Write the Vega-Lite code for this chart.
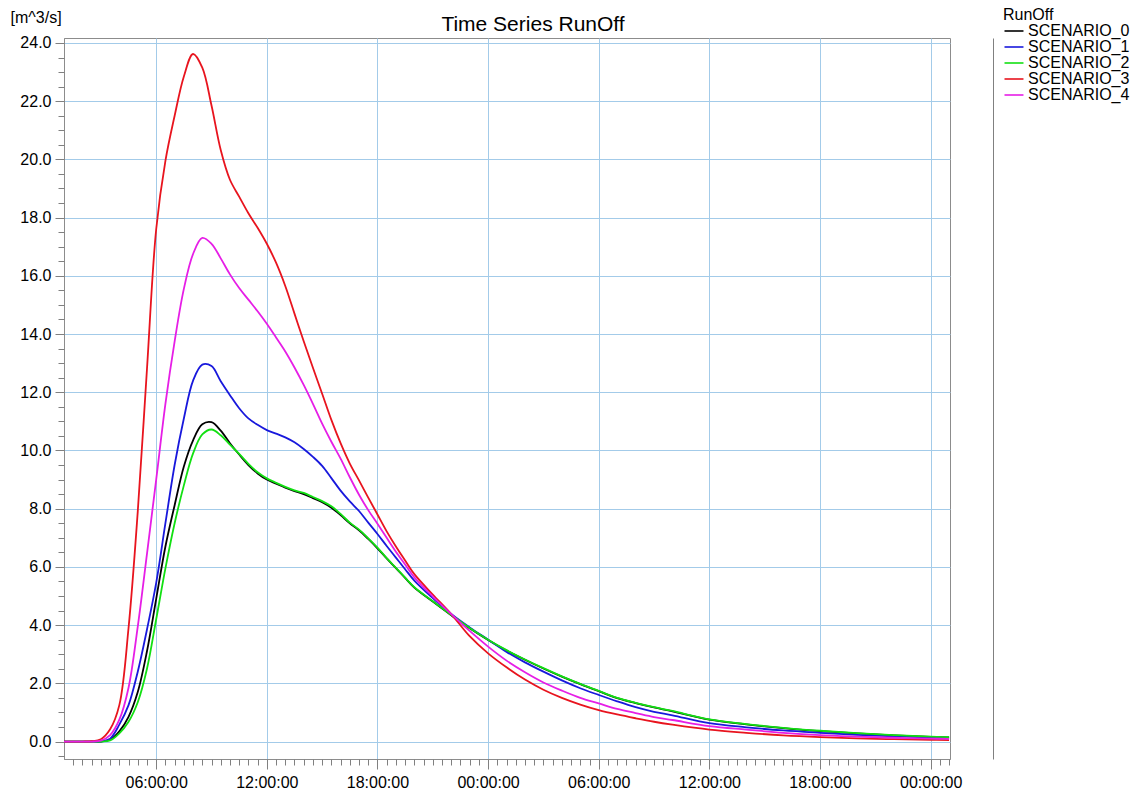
{
  "$schema": "https://vega.github.io/schema/vega-lite/v6.json",
  "width": 886,
  "height": 721,
  "autosize": {"type": "none"},
  "padding": {"left": 64, "top": 38, "right": 192, "bottom": 35},
  "background": "white",
  "title": {
    "text": "Time Series RunOff",
    "anchor": "middle",
    "frame": "group",
    "dx": 26,
    "dy": 32,
    "offset": 4,
    "fontSize": 21,
    "fontWeight": "normal",
    "font": "Liberation Sans",
    "color": "#000000"
  },
  "config": {
    "font": "Liberation Sans",
    "view": {"stroke": "#8c8c8c", "strokeWidth": 1},
    "axis": {
      "labelFont": "Liberation Sans",
      "labelFontSize": 16,
      "labelColor": "#000000",
      "tickColor": "#808080",
      "domainColor": "#8c8c8c",
      "gridColor": "#a3cbe9",
      "gridWidth": 1,
      "labelFlush": false,
      "labelOverlap": false
    }
  },
  "datasets": {
    "runoff": [
      {"hour": 1, "scenario": "SCENARIO_0", "q": 0},
      {"hour": 2, "scenario": "SCENARIO_0", "q": 0},
      {"hour": 2.5, "scenario": "SCENARIO_0", "q": 0},
      {"hour": 3, "scenario": "SCENARIO_0", "q": 0},
      {"hour": 3.5, "scenario": "SCENARIO_0", "q": 0.06},
      {"hour": 4, "scenario": "SCENARIO_0", "q": 0.35},
      {"hour": 4.5, "scenario": "SCENARIO_0", "q": 0.85},
      {"hour": 5, "scenario": "SCENARIO_0", "q": 1.7},
      {"hour": 5.5, "scenario": "SCENARIO_0", "q": 3.1},
      {"hour": 6, "scenario": "SCENARIO_0", "q": 4.9},
      {"hour": 6.5, "scenario": "SCENARIO_0", "q": 6.7},
      {"hour": 7, "scenario": "SCENARIO_0", "q": 8.12},
      {"hour": 7.5, "scenario": "SCENARIO_0", "q": 9.45},
      {"hour": 8, "scenario": "SCENARIO_0", "q": 10.35},
      {"hour": 8.5, "scenario": "SCENARIO_0", "q": 10.9},
      {"hour": 9, "scenario": "SCENARIO_0", "q": 10.97},
      {"hour": 9.5, "scenario": "SCENARIO_0", "q": 10.68},
      {"hour": 10, "scenario": "SCENARIO_0", "q": 10.25},
      {"hour": 10.5, "scenario": "SCENARIO_0", "q": 9.86},
      {"hour": 11, "scenario": "SCENARIO_0", "q": 9.5},
      {"hour": 11.5, "scenario": "SCENARIO_0", "q": 9.21},
      {"hour": 12, "scenario": "SCENARIO_0", "q": 9.0},
      {"hour": 12.5, "scenario": "SCENARIO_0", "q": 8.86},
      {"hour": 13, "scenario": "SCENARIO_0", "q": 8.72},
      {"hour": 13.5, "scenario": "SCENARIO_0", "q": 8.6},
      {"hour": 14, "scenario": "SCENARIO_0", "q": 8.5},
      {"hour": 14.5, "scenario": "SCENARIO_0", "q": 8.36},
      {"hour": 15, "scenario": "SCENARIO_0", "q": 8.22},
      {"hour": 15.5, "scenario": "SCENARIO_0", "q": 8.03},
      {"hour": 16, "scenario": "SCENARIO_0", "q": 7.78},
      {"hour": 16.5, "scenario": "SCENARIO_0", "q": 7.5},
      {"hour": 17, "scenario": "SCENARIO_0", "q": 7.26},
      {"hour": 17.5, "scenario": "SCENARIO_0", "q": 6.96},
      {"hour": 18, "scenario": "SCENARIO_0", "q": 6.64},
      {"hour": 18.5, "scenario": "SCENARIO_0", "q": 6.29},
      {"hour": 19, "scenario": "SCENARIO_0", "q": 5.96},
      {"hour": 19.5, "scenario": "SCENARIO_0", "q": 5.62},
      {"hour": 20, "scenario": "SCENARIO_0", "q": 5.29},
      {"hour": 21, "scenario": "SCENARIO_0", "q": 4.81},
      {"hour": 22, "scenario": "SCENARIO_0", "q": 4.34},
      {"hour": 23, "scenario": "SCENARIO_0", "q": 3.89},
      {"hour": 24, "scenario": "SCENARIO_0", "q": 3.49},
      {"hour": 25, "scenario": "SCENARIO_0", "q": 3.13},
      {"hour": 26, "scenario": "SCENARIO_0", "q": 2.81},
      {"hour": 27, "scenario": "SCENARIO_0", "q": 2.51},
      {"hour": 28, "scenario": "SCENARIO_0", "q": 2.23},
      {"hour": 29, "scenario": "SCENARIO_0", "q": 1.97},
      {"hour": 30, "scenario": "SCENARIO_0", "q": 1.73},
      {"hour": 31, "scenario": "SCENARIO_0", "q": 1.49},
      {"hour": 32, "scenario": "SCENARIO_0", "q": 1.32},
      {"hour": 33, "scenario": "SCENARIO_0", "q": 1.17},
      {"hour": 34, "scenario": "SCENARIO_0", "q": 1.04},
      {"hour": 36, "scenario": "SCENARIO_0", "q": 0.75},
      {"hour": 38, "scenario": "SCENARIO_0", "q": 0.59},
      {"hour": 40, "scenario": "SCENARIO_0", "q": 0.46},
      {"hour": 42, "scenario": "SCENARIO_0", "q": 0.36},
      {"hour": 44, "scenario": "SCENARIO_0", "q": 0.28},
      {"hour": 46, "scenario": "SCENARIO_0", "q": 0.21},
      {"hour": 48, "scenario": "SCENARIO_0", "q": 0.16},
      {"hour": 49, "scenario": "SCENARIO_0", "q": 0.14},

      {"hour": 1, "scenario": "SCENARIO_1", "q": 0},
      {"hour": 2, "scenario": "SCENARIO_1", "q": 0},
      {"hour": 2.5, "scenario": "SCENARIO_1", "q": 0},
      {"hour": 3, "scenario": "SCENARIO_1", "q": 0.01},
      {"hour": 3.5, "scenario": "SCENARIO_1", "q": 0.1},
      {"hour": 4, "scenario": "SCENARIO_1", "q": 0.58},
      {"hour": 4.5, "scenario": "SCENARIO_1", "q": 1.25},
      {"hour": 5, "scenario": "SCENARIO_1", "q": 2.4},
      {"hour": 5.5, "scenario": "SCENARIO_1", "q": 3.85},
      {"hour": 6, "scenario": "SCENARIO_1", "q": 5.45},
      {"hour": 6.5, "scenario": "SCENARIO_1", "q": 7.5},
      {"hour": 7, "scenario": "SCENARIO_1", "q": 9.5},
      {"hour": 7.5, "scenario": "SCENARIO_1", "q": 11.1},
      {"hour": 8, "scenario": "SCENARIO_1", "q": 12.4},
      {"hour": 8.5, "scenario": "SCENARIO_1", "q": 12.95},
      {"hour": 9, "scenario": "SCENARIO_1", "q": 12.9},
      {"hour": 9.5, "scenario": "SCENARIO_1", "q": 12.38},
      {"hour": 10, "scenario": "SCENARIO_1", "q": 11.9},
      {"hour": 10.5, "scenario": "SCENARIO_1", "q": 11.45},
      {"hour": 11, "scenario": "SCENARIO_1", "q": 11.1},
      {"hour": 11.5, "scenario": "SCENARIO_1", "q": 10.88},
      {"hour": 12, "scenario": "SCENARIO_1", "q": 10.7},
      {"hour": 12.5, "scenario": "SCENARIO_1", "q": 10.58},
      {"hour": 13, "scenario": "SCENARIO_1", "q": 10.45},
      {"hour": 13.5, "scenario": "SCENARIO_1", "q": 10.28},
      {"hour": 14, "scenario": "SCENARIO_1", "q": 10.05},
      {"hour": 14.5, "scenario": "SCENARIO_1", "q": 9.78},
      {"hour": 15, "scenario": "SCENARIO_1", "q": 9.47},
      {"hour": 15.5, "scenario": "SCENARIO_1", "q": 9.05},
      {"hour": 16, "scenario": "SCENARIO_1", "q": 8.62},
      {"hour": 16.5, "scenario": "SCENARIO_1", "q": 8.25},
      {"hour": 17, "scenario": "SCENARIO_1", "q": 7.92},
      {"hour": 17.5, "scenario": "SCENARIO_1", "q": 7.52},
      {"hour": 18, "scenario": "SCENARIO_1", "q": 7.13},
      {"hour": 18.5, "scenario": "SCENARIO_1", "q": 6.72},
      {"hour": 19, "scenario": "SCENARIO_1", "q": 6.32},
      {"hour": 19.5, "scenario": "SCENARIO_1", "q": 5.92},
      {"hour": 20, "scenario": "SCENARIO_1", "q": 5.53},
      {"hour": 21, "scenario": "SCENARIO_1", "q": 4.93},
      {"hour": 22, "scenario": "SCENARIO_1", "q": 4.38},
      {"hour": 23, "scenario": "SCENARIO_1", "q": 3.92},
      {"hour": 24, "scenario": "SCENARIO_1", "q": 3.5},
      {"hour": 25, "scenario": "SCENARIO_1", "q": 3.08},
      {"hour": 26, "scenario": "SCENARIO_1", "q": 2.72},
      {"hour": 27, "scenario": "SCENARIO_1", "q": 2.4},
      {"hour": 28, "scenario": "SCENARIO_1", "q": 2.1},
      {"hour": 29, "scenario": "SCENARIO_1", "q": 1.83},
      {"hour": 30, "scenario": "SCENARIO_1", "q": 1.6},
      {"hour": 31, "scenario": "SCENARIO_1", "q": 1.38},
      {"hour": 32, "scenario": "SCENARIO_1", "q": 1.18},
      {"hour": 33, "scenario": "SCENARIO_1", "q": 1.02},
      {"hour": 34, "scenario": "SCENARIO_1", "q": 0.9},
      {"hour": 36, "scenario": "SCENARIO_1", "q": 0.63},
      {"hour": 38, "scenario": "SCENARIO_1", "q": 0.49},
      {"hour": 40, "scenario": "SCENARIO_1", "q": 0.38},
      {"hour": 42, "scenario": "SCENARIO_1", "q": 0.3},
      {"hour": 44, "scenario": "SCENARIO_1", "q": 0.23},
      {"hour": 46, "scenario": "SCENARIO_1", "q": 0.18},
      {"hour": 48, "scenario": "SCENARIO_1", "q": 0.14},
      {"hour": 49, "scenario": "SCENARIO_1", "q": 0.12},

      {"hour": 1, "scenario": "SCENARIO_2", "q": 0},
      {"hour": 2, "scenario": "SCENARIO_2", "q": 0},
      {"hour": 2.5, "scenario": "SCENARIO_2", "q": 0},
      {"hour": 3, "scenario": "SCENARIO_2", "q": 0},
      {"hour": 3.5, "scenario": "SCENARIO_2", "q": 0.04},
      {"hour": 4, "scenario": "SCENARIO_2", "q": 0.28},
      {"hour": 4.5, "scenario": "SCENARIO_2", "q": 0.68},
      {"hour": 5, "scenario": "SCENARIO_2", "q": 1.35},
      {"hour": 5.5, "scenario": "SCENARIO_2", "q": 2.5},
      {"hour": 6, "scenario": "SCENARIO_2", "q": 4.2},
      {"hour": 6.5, "scenario": "SCENARIO_2", "q": 5.95},
      {"hour": 7, "scenario": "SCENARIO_2", "q": 7.5},
      {"hour": 7.5, "scenario": "SCENARIO_2", "q": 8.8},
      {"hour": 8, "scenario": "SCENARIO_2", "q": 9.9},
      {"hour": 8.5, "scenario": "SCENARIO_2", "q": 10.55},
      {"hour": 9, "scenario": "SCENARIO_2", "q": 10.72},
      {"hour": 9.5, "scenario": "SCENARIO_2", "q": 10.52},
      {"hour": 10, "scenario": "SCENARIO_2", "q": 10.2},
      {"hour": 10.5, "scenario": "SCENARIO_2", "q": 9.88},
      {"hour": 11, "scenario": "SCENARIO_2", "q": 9.54},
      {"hour": 11.5, "scenario": "SCENARIO_2", "q": 9.25},
      {"hour": 12, "scenario": "SCENARIO_2", "q": 9.04},
      {"hour": 12.5, "scenario": "SCENARIO_2", "q": 8.89},
      {"hour": 13, "scenario": "SCENARIO_2", "q": 8.75},
      {"hour": 13.5, "scenario": "SCENARIO_2", "q": 8.63},
      {"hour": 14, "scenario": "SCENARIO_2", "q": 8.54},
      {"hour": 14.5, "scenario": "SCENARIO_2", "q": 8.4},
      {"hour": 15, "scenario": "SCENARIO_2", "q": 8.26},
      {"hour": 15.5, "scenario": "SCENARIO_2", "q": 8.08},
      {"hour": 16, "scenario": "SCENARIO_2", "q": 7.82},
      {"hour": 16.5, "scenario": "SCENARIO_2", "q": 7.52},
      {"hour": 17, "scenario": "SCENARIO_2", "q": 7.28},
      {"hour": 17.5, "scenario": "SCENARIO_2", "q": 6.98},
      {"hour": 18, "scenario": "SCENARIO_2", "q": 6.66},
      {"hour": 18.5, "scenario": "SCENARIO_2", "q": 6.3},
      {"hour": 19, "scenario": "SCENARIO_2", "q": 5.97},
      {"hour": 19.5, "scenario": "SCENARIO_2", "q": 5.63},
      {"hour": 20, "scenario": "SCENARIO_2", "q": 5.3},
      {"hour": 21, "scenario": "SCENARIO_2", "q": 4.82},
      {"hour": 22, "scenario": "SCENARIO_2", "q": 4.35},
      {"hour": 23, "scenario": "SCENARIO_2", "q": 3.9},
      {"hour": 24, "scenario": "SCENARIO_2", "q": 3.5},
      {"hour": 25, "scenario": "SCENARIO_2", "q": 3.14},
      {"hour": 26, "scenario": "SCENARIO_2", "q": 2.82},
      {"hour": 27, "scenario": "SCENARIO_2", "q": 2.52},
      {"hour": 28, "scenario": "SCENARIO_2", "q": 2.24},
      {"hour": 29, "scenario": "SCENARIO_2", "q": 1.98},
      {"hour": 30, "scenario": "SCENARIO_2", "q": 1.74},
      {"hour": 31, "scenario": "SCENARIO_2", "q": 1.5},
      {"hour": 32, "scenario": "SCENARIO_2", "q": 1.33},
      {"hour": 33, "scenario": "SCENARIO_2", "q": 1.18},
      {"hour": 34, "scenario": "SCENARIO_2", "q": 1.05},
      {"hour": 36, "scenario": "SCENARIO_2", "q": 0.76},
      {"hour": 38, "scenario": "SCENARIO_2", "q": 0.6},
      {"hour": 40, "scenario": "SCENARIO_2", "q": 0.47},
      {"hour": 42, "scenario": "SCENARIO_2", "q": 0.37},
      {"hour": 44, "scenario": "SCENARIO_2", "q": 0.29},
      {"hour": 46, "scenario": "SCENARIO_2", "q": 0.22},
      {"hour": 48, "scenario": "SCENARIO_2", "q": 0.17},
      {"hour": 49, "scenario": "SCENARIO_2", "q": 0.15},

      {"hour": 1, "scenario": "SCENARIO_3", "q": 0},
      {"hour": 2, "scenario": "SCENARIO_3", "q": 0},
      {"hour": 2.5, "scenario": "SCENARIO_3", "q": 0.01},
      {"hour": 3, "scenario": "SCENARIO_3", "q": 0.08},
      {"hour": 3.5, "scenario": "SCENARIO_3", "q": 0.42},
      {"hour": 4, "scenario": "SCENARIO_3", "q": 1.25},
      {"hour": 4.5, "scenario": "SCENARIO_3", "q": 3.9},
      {"hour": 5, "scenario": "SCENARIO_3", "q": 7.9},
      {"hour": 5.5, "scenario": "SCENARIO_3", "q": 12.8},
      {"hour": 6, "scenario": "SCENARIO_3", "q": 17.6},
      {"hour": 6.5, "scenario": "SCENARIO_3", "q": 19.95},
      {"hour": 7, "scenario": "SCENARIO_3", "q": 21.5},
      {"hour": 7.5, "scenario": "SCENARIO_3", "q": 22.85},
      {"hour": 8, "scenario": "SCENARIO_3", "q": 23.62},
      {"hour": 8.5, "scenario": "SCENARIO_3", "q": 23.15},
      {"hour": 9, "scenario": "SCENARIO_3", "q": 21.85},
      {"hour": 9.5, "scenario": "SCENARIO_3", "q": 20.32},
      {"hour": 10, "scenario": "SCENARIO_3", "q": 19.3},
      {"hour": 10.5, "scenario": "SCENARIO_3", "q": 18.72},
      {"hour": 11, "scenario": "SCENARIO_3", "q": 18.15},
      {"hour": 11.5, "scenario": "SCENARIO_3", "q": 17.65},
      {"hour": 12, "scenario": "SCENARIO_3", "q": 17.1},
      {"hour": 12.5, "scenario": "SCENARIO_3", "q": 16.45},
      {"hour": 13, "scenario": "SCENARIO_3", "q": 15.65},
      {"hour": 13.5, "scenario": "SCENARIO_3", "q": 14.7},
      {"hour": 14, "scenario": "SCENARIO_3", "q": 13.75},
      {"hour": 14.5, "scenario": "SCENARIO_3", "q": 12.84},
      {"hour": 15, "scenario": "SCENARIO_3", "q": 11.95},
      {"hour": 15.5, "scenario": "SCENARIO_3", "q": 11.05},
      {"hour": 16, "scenario": "SCENARIO_3", "q": 10.25},
      {"hour": 16.5, "scenario": "SCENARIO_3", "q": 9.55},
      {"hour": 17, "scenario": "SCENARIO_3", "q": 8.97},
      {"hour": 17.5, "scenario": "SCENARIO_3", "q": 8.38},
      {"hour": 18, "scenario": "SCENARIO_3", "q": 7.8},
      {"hour": 18.5, "scenario": "SCENARIO_3", "q": 7.22},
      {"hour": 19, "scenario": "SCENARIO_3", "q": 6.7},
      {"hour": 19.5, "scenario": "SCENARIO_3", "q": 6.22},
      {"hour": 20, "scenario": "SCENARIO_3", "q": 5.75},
      {"hour": 21, "scenario": "SCENARIO_3", "q": 5.05},
      {"hour": 22, "scenario": "SCENARIO_3", "q": 4.38},
      {"hour": 23, "scenario": "SCENARIO_3", "q": 3.62},
      {"hour": 24, "scenario": "SCENARIO_3", "q": 3.03},
      {"hour": 25, "scenario": "SCENARIO_3", "q": 2.55},
      {"hour": 26, "scenario": "SCENARIO_3", "q": 2.13},
      {"hour": 27, "scenario": "SCENARIO_3", "q": 1.78},
      {"hour": 28, "scenario": "SCENARIO_3", "q": 1.5},
      {"hour": 29, "scenario": "SCENARIO_3", "q": 1.27},
      {"hour": 30, "scenario": "SCENARIO_3", "q": 1.08},
      {"hour": 31, "scenario": "SCENARIO_3", "q": 0.93},
      {"hour": 32, "scenario": "SCENARIO_3", "q": 0.8},
      {"hour": 33, "scenario": "SCENARIO_3", "q": 0.68},
      {"hour": 34, "scenario": "SCENARIO_3", "q": 0.58},
      {"hour": 36, "scenario": "SCENARIO_3", "q": 0.41},
      {"hour": 38, "scenario": "SCENARIO_3", "q": 0.3},
      {"hour": 40, "scenario": "SCENARIO_3", "q": 0.21},
      {"hour": 42, "scenario": "SCENARIO_3", "q": 0.15},
      {"hour": 44, "scenario": "SCENARIO_3", "q": 0.11},
      {"hour": 46, "scenario": "SCENARIO_3", "q": 0.08},
      {"hour": 48, "scenario": "SCENARIO_3", "q": 0.06},
      {"hour": 49, "scenario": "SCENARIO_3", "q": 0.05},

      {"hour": 1, "scenario": "SCENARIO_4", "q": 0},
      {"hour": 2, "scenario": "SCENARIO_4", "q": 0},
      {"hour": 2.5, "scenario": "SCENARIO_4", "q": 0},
      {"hour": 3, "scenario": "SCENARIO_4", "q": 0.03},
      {"hour": 3.5, "scenario": "SCENARIO_4", "q": 0.22},
      {"hour": 4, "scenario": "SCENARIO_4", "q": 0.75},
      {"hour": 4.5, "scenario": "SCENARIO_4", "q": 1.85},
      {"hour": 5, "scenario": "SCENARIO_4", "q": 3.95},
      {"hour": 5.5, "scenario": "SCENARIO_4", "q": 6.45},
      {"hour": 6, "scenario": "SCENARIO_4", "q": 9.0},
      {"hour": 6.5, "scenario": "SCENARIO_4", "q": 11.6},
      {"hour": 7, "scenario": "SCENARIO_4", "q": 13.75},
      {"hour": 7.5, "scenario": "SCENARIO_4", "q": 15.55},
      {"hour": 8, "scenario": "SCENARIO_4", "q": 16.75},
      {"hour": 8.5, "scenario": "SCENARIO_4", "q": 17.3},
      {"hour": 9, "scenario": "SCENARIO_4", "q": 17.1},
      {"hour": 9.5, "scenario": "SCENARIO_4", "q": 16.6},
      {"hour": 10, "scenario": "SCENARIO_4", "q": 16.05},
      {"hour": 10.5, "scenario": "SCENARIO_4", "q": 15.58},
      {"hour": 11, "scenario": "SCENARIO_4", "q": 15.18},
      {"hour": 11.5, "scenario": "SCENARIO_4", "q": 14.78},
      {"hour": 12, "scenario": "SCENARIO_4", "q": 14.35},
      {"hour": 12.5, "scenario": "SCENARIO_4", "q": 13.88},
      {"hour": 13, "scenario": "SCENARIO_4", "q": 13.4},
      {"hour": 13.5, "scenario": "SCENARIO_4", "q": 12.85},
      {"hour": 14, "scenario": "SCENARIO_4", "q": 12.25},
      {"hour": 14.5, "scenario": "SCENARIO_4", "q": 11.6},
      {"hour": 15, "scenario": "SCENARIO_4", "q": 10.92},
      {"hour": 15.5, "scenario": "SCENARIO_4", "q": 10.3},
      {"hour": 16, "scenario": "SCENARIO_4", "q": 9.72},
      {"hour": 16.5, "scenario": "SCENARIO_4", "q": 9.08},
      {"hour": 17, "scenario": "SCENARIO_4", "q": 8.48},
      {"hour": 17.5, "scenario": "SCENARIO_4", "q": 7.95},
      {"hour": 18, "scenario": "SCENARIO_4", "q": 7.48},
      {"hour": 18.5, "scenario": "SCENARIO_4", "q": 7.0},
      {"hour": 19, "scenario": "SCENARIO_4", "q": 6.52},
      {"hour": 19.5, "scenario": "SCENARIO_4", "q": 6.08},
      {"hour": 20, "scenario": "SCENARIO_4", "q": 5.64},
      {"hour": 21, "scenario": "SCENARIO_4", "q": 4.98},
      {"hour": 22, "scenario": "SCENARIO_4", "q": 4.38},
      {"hour": 23, "scenario": "SCENARIO_4", "q": 3.8},
      {"hour": 24, "scenario": "SCENARIO_4", "q": 3.26},
      {"hour": 25, "scenario": "SCENARIO_4", "q": 2.78},
      {"hour": 26, "scenario": "SCENARIO_4", "q": 2.38},
      {"hour": 27, "scenario": "SCENARIO_4", "q": 2.03},
      {"hour": 28, "scenario": "SCENARIO_4", "q": 1.75},
      {"hour": 29, "scenario": "SCENARIO_4", "q": 1.5},
      {"hour": 30, "scenario": "SCENARIO_4", "q": 1.31},
      {"hour": 31, "scenario": "SCENARIO_4", "q": 1.12},
      {"hour": 32, "scenario": "SCENARIO_4", "q": 0.98},
      {"hour": 33, "scenario": "SCENARIO_4", "q": 0.84},
      {"hour": 34, "scenario": "SCENARIO_4", "q": 0.74},
      {"hour": 36, "scenario": "SCENARIO_4", "q": 0.53},
      {"hour": 38, "scenario": "SCENARIO_4", "q": 0.41},
      {"hour": 40, "scenario": "SCENARIO_4", "q": 0.3},
      {"hour": 42, "scenario": "SCENARIO_4", "q": 0.22},
      {"hour": 44, "scenario": "SCENARIO_4", "q": 0.17},
      {"hour": 46, "scenario": "SCENARIO_4", "q": 0.13},
      {"hour": 48, "scenario": "SCENARIO_4", "q": 0.1},
      {"hour": 49, "scenario": "SCENARIO_4", "q": 0.09}
    ]
  },
  "data": {"name": "runoff"},
  "layer": [
    {
      "description": "Hydrographs, one line per scenario, with the labelled axes and grid",
      "mark": {"type": "line", "interpolate": "catmull-rom", "strokeWidth": 1.8},
      "encoding": {
        "x": {
          "field": "hour",
          "type": "quantitative",
          "scale": {"domain": [1, 49.05], "nice": false, "zero": false},
          "axis": {
            "title": null,
            "orient": "bottom",
            "values": [6, 12, 18, 24, 30, 36, 42, 48],
            "labelExpr": "(datum.value % 24 < 10 ? '0' : '') + (datum.value % 24) + ':00:00'",
            "grid": true,
            "tickSize": 10,
            "labelPadding": 5
          }
        },
        "y": {
          "field": "q",
          "type": "quantitative",
          "scale": {"domain": [-0.6, 24.17], "nice": false, "zero": false},
          "axis": {
            "orient": "left",
            "title": "[m^3/s]",
            "titleAngle": 0,
            "titleAlign": "left",
            "titleBaseline": "alphabetic",
            "titleX": -54,
            "titleY": -16,
            "titleFontSize": 16,
            "titleFontWeight": "normal",
            "titleColor": "#000000",
            "values": [0, 2, 4, 6, 8, 10, 12, 14, 16, 18, 20, 22, 24],
            "format": ".1f",
            "grid": true,
            "tickSize": 9,
            "labelPadding": 4
          }
        },
        "color": {
          "field": "scenario",
          "type": "nominal",
          "scale": {
            "domain": ["SCENARIO_0", "SCENARIO_1", "SCENARIO_2", "SCENARIO_3", "SCENARIO_4"],
            "range": ["#000000", "#1818dc", "#12e012", "#e8141e", "#e61ee6"]
          },
          "legend": {
            "title": "RunOff",
            "orient": "none",
            "legendX": 939,
            "legendY": -31,
            "titleFontSize": 16,
            "titleFontWeight": "normal",
            "titleColor": "#000000",
            "titlePadding": 0,
            "labelFontSize": 16,
            "labelColor": "#000000",
            "labelOffset": 9,
            "symbolType": "M-1,0H1.92",
            "symbolSize": 169,
            "symbolStrokeWidth": 1.6,
            "rowPadding": 0
          }
        }
      }
    },
    {
      "description": "Minor ticks every half hour and every 0.5 m^3/s",
      "mark": {"type": "point", "opacity": 0},
      "encoding": {
        "x": {
          "field": "hour",
          "type": "quantitative",
          "axis": {
            "title": null,
            "orient": "bottom",
            "labels": false,
            "grid": false,
            "domain": false,
            "tickSize": 6,
            "values": [1.5, 2, 2.5, 3, 3.5, 4, 4.5, 5, 5.5, 6, 6.5, 7, 7.5, 8, 8.5, 9, 9.5, 10, 10.5, 11, 11.5, 12, 12.5, 13, 13.5, 14, 14.5, 15, 15.5, 16, 16.5, 17, 17.5, 18, 18.5, 19, 19.5, 20, 20.5, 21, 21.5, 22, 22.5, 23, 23.5, 24, 24.5, 25, 25.5, 26, 26.5, 27, 27.5, 28, 28.5, 29, 29.5, 30, 30.5, 31, 31.5, 32, 32.5, 33, 33.5, 34, 34.5, 35, 35.5, 36, 36.5, 37, 37.5, 38, 38.5, 39, 39.5, 40, 40.5, 41, 41.5, 42, 42.5, 43, 43.5, 44, 44.5, 45, 45.5, 46, 46.5, 47, 47.5, 48, 48.5, 49]
          }
        },
        "y": {
          "field": "q",
          "type": "quantitative",
          "axis": {
            "title": null,
            "orient": "left",
            "labels": false,
            "grid": false,
            "domain": false,
            "tickSize": 6,
            "values": [-0.5, 0, 0.5, 1, 1.5, 2, 2.5, 3, 3.5, 4, 4.5, 5, 5.5, 6, 6.5, 7, 7.5, 8, 8.5, 9, 9.5, 10, 10.5, 11, 11.5, 12, 12.5, 13, 13.5, 14, 14.5, 15, 15.5, 16, 16.5, 17, 17.5, 18, 18.5, 19, 19.5, 20, 20.5, 21, 21.5, 22, 22.5, 23, 23.5, 24]
          }
        }
      }
    },
    {
      "description": "Separator line between plot and legend",
      "mark": {"type": "point", "opacity": 0},
      "encoding": {
        "x": {"field": "hour", "type": "quantitative", "axis": null},
        "y": {
          "field": "q",
          "type": "quantitative",
          "axis": {
            "title": null,
            "orient": "right",
            "offset": 43,
            "labels": false,
            "ticks": false,
            "grid": false,
            "domain": true,
            "domainColor": "#808080"
          }
        }
      }
    }
  ],
  "resolve": {"axis": {"x": "independent", "y": "independent"}}
}
